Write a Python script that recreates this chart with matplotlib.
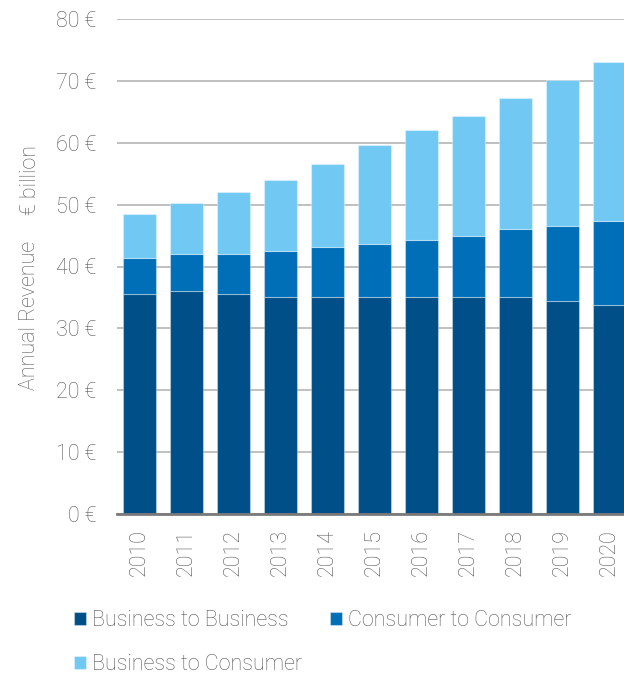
import matplotlib
matplotlib.use("Agg")
import matplotlib.pyplot as plt
import numpy as np

plt.rcParams["font.family"] = ["Roboto", "DejaVu Sans"]
plt.rcParams["font.weight"] = "light"

years = ["2010", "2011", "2012", "2013", "2014", "2015",
         "2016", "2017", "2018", "2019", "2020"]
b2b = [35.5, 36.0, 35.5, 35.0, 35.0, 35.0, 35.0, 35.0, 35.0, 34.5, 33.7]
c2c = [5.9, 6.0, 6.5, 7.5, 8.1, 8.7, 9.3, 9.9, 11.0, 12.1, 13.6]
b2c = [7.1, 8.2, 10.1, 11.5, 13.4, 15.9, 17.7, 19.5, 21.3, 23.6, 25.8]
series_names = ["Business to Business", "Consumer to Consumer", "Business to Consumer"]
colors = ["#004f88", "#006fb8", "#71c9f3"]
ytick_values = [0, 10, 20, 30, 40, 50, 60, 70, 80]

text_color = "#585858"
fs = 15.5

fig = plt.figure(figsize=(6.24, 6.77), dpi=100)
ax = fig.add_axes([117 / 624, 1 - 514 / 677, 1 - 117 / 624, (514 - 19) / 677])

x = np.arange(len(years))
bottom = np.zeros(len(years))
handles = []
for vals, col, name in zip([b2b, c2c, b2c], colors, series_names):
    h = ax.bar(x, vals, width=0.7, bottom=bottom, color=col, label=name,
               edgecolor=(1, 1, 1, 0.35), linewidth=0.8, zorder=3)
    handles.append(h)
    bottom = bottom + np.array(vals)

ax.set_xlim(-0.48, 10.31)
ax.set_ylim(0, 80)
ax.set_yticks(ytick_values)
ax.set_yticklabels([f"{v} €" for v in ytick_values])
ax.set_xticks(x)
ax.set_xticklabels(years, rotation=90)

ax.tick_params(axis="y", length=0, pad=15, labelsize=fs, labelcolor=text_color)
ax.tick_params(axis="x", length=0, pad=11, labelsize=fs, labelcolor=text_color)

ax.grid(axis="y", color="#b5b5b5", linewidth=1.2, zorder=0)
ax.set_axisbelow(True)
for s in ["top", "right", "left"]:
    ax.spines[s].set_visible(False)
ax.spines["bottom"].set_color("#7a7a7a")
ax.spines["bottom"].set_linewidth(2.0)
ax.spines["bottom"].set_zorder(4)

# vertical axis title, split into two parts
fig.text(30 / 624, 1 - 315 / 677, "Annual Revenue", rotation=90, ha="center",
         va="center", fontsize=fs, color=text_color)
fig.text(30 / 624, 1 - 180 / 677, "€ billion", rotation=90, ha="center",
         va="center", fontsize=fs, color=text_color)

# legend entries laid out in a flowing two-row arrangement
legend_pos = [(74 / 624, 1 - 621 / 677), (330 / 624, 1 - 621 / 677), (74 / 624, 1 - 665 / 677)]
for h, name, (lx, ly) in zip(handles, series_names, legend_pos):
    fig.legend(handles=[h], labels=[name], loc="center left", bbox_to_anchor=(lx, ly),
               frameon=False, fontsize=fs, labelcolor=text_color, handlelength=0.55,
               handleheight=0.55, handletextpad=0.3, borderpad=0, borderaxespad=0)

fig.savefig("out.png", dpi=100)
